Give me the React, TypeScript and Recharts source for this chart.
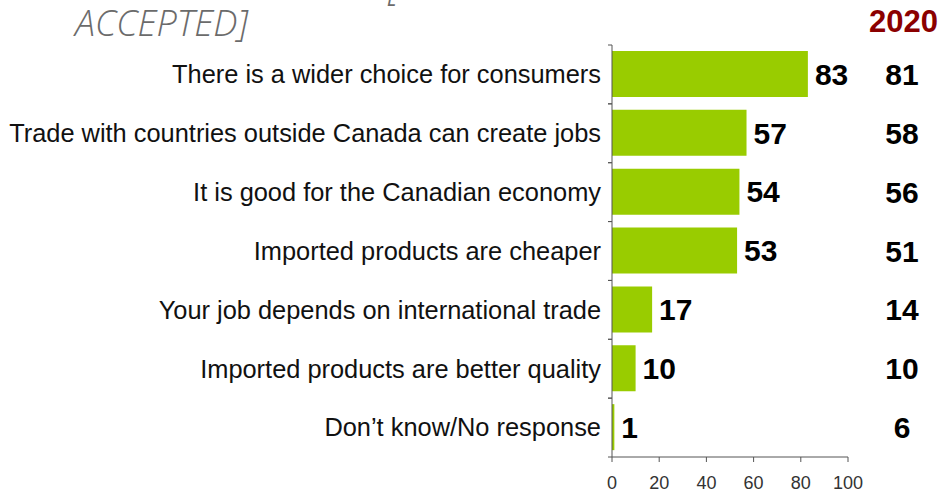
import React from 'react';
import { BarChart, Bar, XAxis, YAxis, LabelList } from 'recharts';

const categories = [
  'There is a wider choice for consumers',
  'Trade with countries outside Canada can create jobs',
  'It is good for the Canadian economy',
  'Imported products are cheaper',
  'Your job depends on international trade',
  'Imported products are better quality',
  'Don\u2019t know/No response',
];
const values2022 = [83, 57, 54, 53, 17, 10, 1];
const values2020 = [81, 58, 56, 51, 14, 10, 6];
const xTicks = [0, 20, 40, 60, 80, 100];

const data = categories.map((name, i) => ({ name, value: values2022[i], prev: values2020[i] }));

const LeftTick = (props: any) => {
  const { x, y, payload } = props;
  const half = payload && payload.offset ? payload.offset : 29.5;
  const axisX = x + 11;
  return (
    <g>
      <line x1={axisX - 4} x2={axisX} y1={y - half} y2={y - half} stroke="#555" strokeWidth={1} />
      <line x1={axisX - 4} x2={axisX} y1={y + half} y2={y + half} stroke="#555" strokeWidth={1} />
      <text x={x} y={y} dy="0.35em" textAnchor="end" fontFamily="'Liberation Sans', Arial, sans-serif" fontSize={25.4} fill="#111">
        {payload.value}
      </text>
    </g>
  );
};

const RightTick = (props: any) => {
  const { x, y, index } = props;
  return (
    <text x={x + 54} y={y} dy="0.35em" textAnchor="middle" fontFamily="'Liberation Sans', Arial, sans-serif" fontWeight="bold" fontSize={30} fill="#000">
      {values2020[index]}
    </text>
  );
};

export default function App() {
  return (
    <div style={{ position: 'absolute', left: 0, top: 0, width: 942, height: 493, background: '#fff', overflow: 'hidden' }}>
      <div style={{ position: 'absolute', left: 388, top: -33, fontFamily: "'Open Sans', sans-serif", fontStyle: 'italic', fontWeight: 300, fontSize: 36, color: '#6b6b6b', lineHeight: '40px' }}>
        [
      </div>
      <div style={{ position: 'absolute', left: 75, top: 3, fontFamily: "'Open Sans', sans-serif", fontStyle: 'italic', fontWeight: 300, fontSize: 36, color: '#6b6b6b', lineHeight: '40px' }}>
        ACCEPTED]
      </div>
      <div style={{ position: 'absolute', left: 869, top: 2, fontFamily: "'Liberation Sans', Arial, sans-serif", fontWeight: 'bold', fontSize: 31, color: '#8b0000', lineHeight: '40px' }}>
        2020
      </div>
      <BarChart
        width={942}
        height={493}
        data={data}
        layout="vertical"
        margin={{ top: 45, right: 0, bottom: 0, left: 0 }}
        barSize={46}
      >
        <XAxis
          type="number"
          domain={[0, 100]}
          ticks={xTicks}
          height={36}
          tickSize={5}
          tickMargin={14}
          axisLine={{ stroke: '#555' }}
          tickLine={{ stroke: '#555' }}
          tick={{ fill: '#333', fontSize: 18, fontFamily: "'Liberation Sans', Arial, sans-serif" }}
          interval={0}
        />
        <YAxis
          yAxisId="left"
          type="category"
          dataKey="name"
          width={612}
          axisLine={{ stroke: '#555' }}
          tickLine={false}
          tickSize={0}
          tickMargin={11}
          tick={<LeftTick />}
          interval={0}
        />
        <YAxis
          yAxisId="right"
          orientation="right"
          type="category"
          dataKey="name"
          width={94}
          axisLine={false}
          tickLine={false}
          tickSize={0}
          tickMargin={0}
          tick={<RightTick />}
          interval={0}
        />
        <Bar yAxisId="left" dataKey="value" fill="#99cc00" isAnimationActive={false}>
          <LabelList
            dataKey="value"
            position="right"
            offset={7}
            style={{ fill: '#000', fontSize: 30, fontWeight: 'bold', fontFamily: "'Liberation Sans', Arial, sans-serif" }}
          />
        </Bar>
      </BarChart>
    </div>
  );
}
